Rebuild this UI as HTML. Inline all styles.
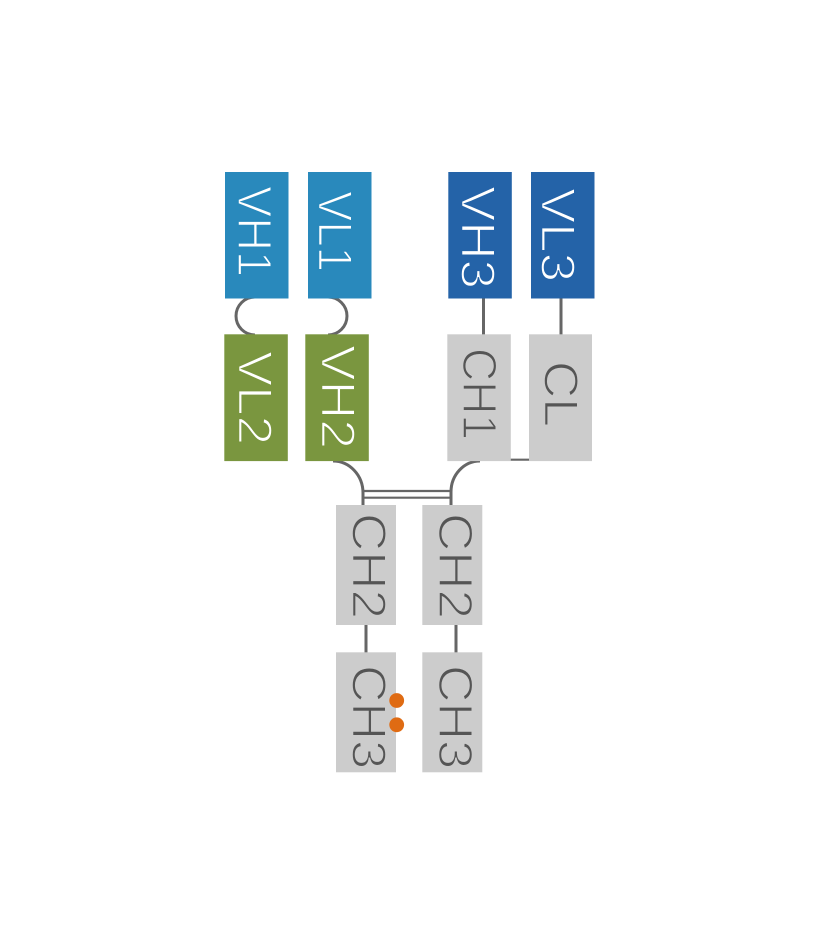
<!DOCTYPE html>
<html>
<head>
<meta charset="utf-8">
<style>
  html, body { margin:0; padding:0; background:#ffffff; }
  svg { display:block; }
  text { font-family: "Liberation Sans", "DejaVu Sans", sans-serif; font-size:48px; }
</style>
</head>
<body>
<svg width="819" height="945" viewBox="0 0 819 945" xmlns="http://www.w3.org/2000/svg">
  <rect x="0" y="0" width="819" height="945" fill="#ffffff"/>

  <!-- connectors (behind boxes) -->
  <g fill="none" stroke="#666666" stroke-width="3">
    <path d="M255,297 A19,19 0 0 0 255,335"/>
    <path d="M328,297 A19,19 0 0 1 328,335"/>
    <path d="M333,461 A30,32 0 0 1 363,493 L363,506"/>
    <path d="M480,461 A29,31 0 0 0 451,492 L451,506"/>
    <line x1="483.5" y1="297" x2="483.5" y2="335"/>
    <line x1="561" y1="297" x2="561" y2="335"/>
    <line x1="366" y1="624" x2="366" y2="653"/>
    <line x1="456" y1="624" x2="456" y2="653"/>
  </g>
  <g stroke="#666666" stroke-width="2.2">
    <line x1="363" y1="491" x2="451" y2="491"/>
    <line x1="363" y1="497.7" x2="451" y2="497.7"/>
    <line x1="509" y1="459.7" x2="531" y2="459.7"/>
  </g>

  <!-- boxes -->
  <rect x="225" y="172" width="63.5" height="126.5" fill="#2989bc"/>
  <rect x="308" y="172" width="63.5" height="126.5" fill="#2989bc"/>
  <rect x="448.3" y="172" width="63.5" height="126.5" fill="#2463a8"/>
  <rect x="531" y="172" width="63.5" height="126.5" fill="#2463a8"/>

  <rect x="224.3" y="334.3" width="63.5" height="126.8" fill="#7a963f"/>
  <rect x="305.3" y="334.3" width="63.5" height="126.8" fill="#7a963f"/>
  <rect x="447.3" y="334.3" width="63.5" height="126.8" fill="#cccccc"/>
  <rect x="529" y="334.3" width="63" height="126.8" fill="#cccccc"/>

  <rect x="336" y="505" width="60" height="120" fill="#cccccc"/>
  <rect x="422.3" y="505" width="60" height="120" fill="#cccccc"/>
  <rect x="336" y="652.3" width="60" height="120" fill="#cccccc"/>
  <rect x="422.3" y="652.3" width="60" height="120" fill="#cccccc"/>

  <!-- labels (rotated 90deg clockwise); stroke in box colour thins the glyphs -->
  <g fill="#ffffff" text-anchor="middle" stroke-width="1.5">
    <text stroke="#2989bc" transform="translate(238,231.5) rotate(90)" textLength="91" lengthAdjust="spacingAndGlyphs">VH1</text>
    <text stroke="#2989bc" transform="translate(318.5,231.5) rotate(90)" textLength="81" lengthAdjust="spacingAndGlyphs">VL1</text>
    <text stroke="#2463a8" transform="translate(461.5,237.5) rotate(90)" textLength="103" lengthAdjust="spacingAndGlyphs">VH3</text>
    <text stroke="#2463a8" transform="translate(541.5,235) rotate(90)" textLength="94" lengthAdjust="spacingAndGlyphs">VL3</text>
    <text stroke="#7a963f" transform="translate(238.5,398) rotate(90)" textLength="94" lengthAdjust="spacingAndGlyphs">VL2</text>
    <text stroke="#7a963f" transform="translate(321.5,397) rotate(90)" textLength="104" lengthAdjust="spacingAndGlyphs">VH2</text>
  </g>
  <g fill="#555555" stroke="#cccccc" stroke-width="1.5" text-anchor="middle">
    <text transform="translate(463,394) rotate(90)" textLength="92" lengthAdjust="spacingAndGlyphs">CH1</text>
    <text transform="translate(544.5,394) rotate(90)" textLength="66" lengthAdjust="spacingAndGlyphs">CL</text>
    <text transform="translate(352.5,566) rotate(90)" textLength="106" lengthAdjust="spacingAndGlyphs">CH2</text>
    <text transform="translate(439,566) rotate(90)" textLength="106" lengthAdjust="spacingAndGlyphs">CH2</text>
    <text transform="translate(352.5,717) rotate(90)" textLength="104" lengthAdjust="spacingAndGlyphs">CH3</text>
    <text transform="translate(439,717) rotate(90)" textLength="104" lengthAdjust="spacingAndGlyphs">CH3</text>
  </g>

  <!-- orange dots -->
  <circle cx="396.7" cy="700.5" r="7.4" fill="#df6b13"/>
  <circle cx="396.7" cy="724.8" r="7.4" fill="#df6b13"/>
</svg>
</body>
</html>
